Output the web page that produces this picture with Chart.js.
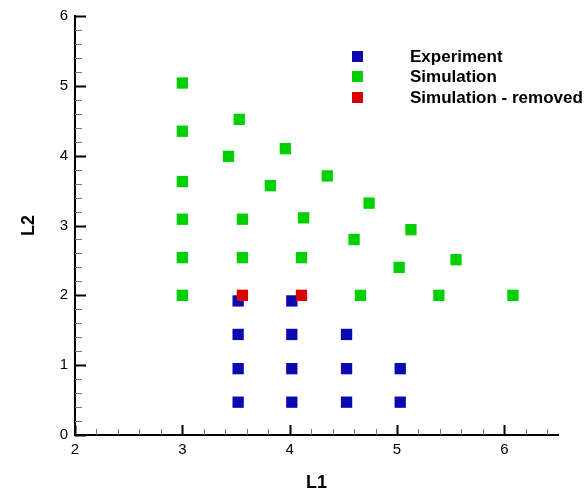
<!DOCTYPE html>
<html>
<head>
<meta charset="UTF-8">
<title>L1 vs L2</title>
<script src="https://cdn.jsdelivr.net/npm/chart.js"></script>
<style>
    body { margin: 0; background: #fff; font-family: "Liberation Sans", Arial, sans-serif; }
    #wrap { position: relative; width: 588px; height: 494px; }
    .leg { position: absolute; left: 352px; height: 20px; line-height: 20px; font-weight: bold; font-size: 17px; color: #000; white-space: nowrap; }
    .leg span { position: absolute; left: 0; top: 4px; width: 11px; height: 11px; }
    .leg b { position: absolute; left: 58px; top: 0; }
</style>
</head>
<body>
<div id="wrap">
    <canvas id="grafica" width="588" height="494"></canvas>
    <div class="leg" style="top:47px"><span style="background:#0a0ab0"></span><b>Experiment</b></div>
    <div class="leg" style="top:67px"><span style="background:#00d000"></span><b>Simulation</b></div>
    <div class="leg" style="top:88px"><span style="background:#d80000"></span><b>Simulation - removed</b></div>
</div>
<script>
    // valores
    const expX = [3.52, 4.02, 3.52, 4.02, 4.53, 3.52, 4.02, 4.53, 5.03, 3.52, 4.02, 4.53, 5.03];
    const expY = [1.92, 1.92, 1.44, 1.44, 1.44, 0.95, 0.95, 0.95, 0.95, 0.47, 0.47, 0.47, 0.47];

    const simX = [3.0, 3.0, 3.0, 3.0, 3.0, 3.0, 3.53, 3.43, 3.96, 3.82, 4.35, 3.56, 4.13, 4.74, 3.56, 4.11, 4.60, 5.13, 5.02, 5.55, 4.66, 5.39, 6.08];
    const simY = [5.04, 4.35, 3.63, 3.09, 2.54, 2.0, 4.52, 3.99, 4.10, 3.57, 3.71, 3.09, 3.11, 3.32, 2.54, 2.54, 2.80, 2.94, 2.40, 2.51, 2.0, 2.0, 2.0];

    const remX = [3.56, 4.11];
    const remY = [2.0, 2.0];

    const xTicks = [2, 3, 4, 5, 6];
    const yTicks = [0, 1, 2, 3, 4, 5, 6];

    function pares(xs, ys) {
        return xs.map((x, i) => ({ x: x, y: ys[i] }));
    }

    // marcas de los ejes hacia adentro (mayores y menores)
    const marcas = {
        id: 'marcas',
        beforeDatasetsDraw(chart) {
            const ctx = chart.ctx;
            const sx = chart.scales.x, sy = chart.scales.y;
            const a = chart.chartArea;
            ctx.save();
            for (let k = 0; k <= 22; k++) {
                const v = 2 + k * 0.2;
                const px = Math.round(sx.getPixelForValue(v)) + 0.5;
                const mayor = k % 5 === 0;
                ctx.beginPath();
                ctx.lineWidth = mayor ? 2 : 1;
                ctx.strokeStyle = mayor ? '#000' : '#777';
                ctx.moveTo(px, a.bottom);
                ctx.lineTo(px, a.bottom - (mayor ? 10 : 6));
                ctx.stroke();
            }
            for (let k = 0; k <= 30; k++) {
                const v = k * 0.2;
                const py = Math.round(sy.getPixelForValue(v)) + 0.5;
                const mayor = k % 5 === 0;
                ctx.beginPath();
                ctx.lineWidth = mayor ? 2 : 1;
                ctx.strokeStyle = mayor ? '#000' : '#777';
                ctx.moveTo(a.left, py);
                ctx.lineTo(a.left + (mayor ? 11 : 7), py);
                ctx.stroke();
            }
            ctx.restore();
        }
    };

    new Chart(document.getElementById('grafica'), {
        type: 'scatter',
        data: {
            datasets: [
                { label: 'Experiment', data: pares(expX, expY), backgroundColor: '#0a0ab0', order: 2 },
                { label: 'Simulation', data: pares(simX, simY), backgroundColor: '#00d000', order: 1 },
                { label: 'Simulation - removed', data: pares(remX, remY), backgroundColor: '#d80000', order: 0 }
            ]
        },
        options: {
            responsive: false,
            animation: false,
            elements: { point: { pointStyle: 'rect', radius: 8, borderWidth: 0, hoverRadius: 8 } },
            layout: { padding: { top: 15, right: 30, left: 0, bottom: 0 } },
            plugins: { legend: { display: false }, tooltip: { enabled: false } },
            scales: {
                x: {
                    type: 'linear',
                    min: 2, max: 6.5,
                    grid: { display: false, drawTicks: false },
                    border: { display: true, color: '#000', width: 2 },
                    afterBuildTicks: s => { s.ticks = xTicks.map(v => ({ value: v })); },
                    afterFit: s => { s.height = 59; },
                    ticks: { color: '#000', padding: 6, font: { size: 15, family: 'Liberation Sans' }, maxRotation: 0 },
                    title: { display: true, text: 'L1', color: '#000', font: { size: 18, weight: 'bold', family: 'Liberation Sans' }, padding: { top: 0, bottom: 0 } }
                },
                y: {
                    type: 'linear',
                    min: 0, max: 6,
                    grid: { display: false, drawTicks: false },
                    border: { display: true, color: '#000', width: 2 },
                    afterBuildTicks: s => { s.ticks = yTicks.map(v => ({ value: v })); },
                    afterFit: s => { s.width = 75; },
                    ticks: { color: '#000', padding: 7, font: { size: 15, family: 'Liberation Sans' } },
                    title: { display: true, text: 'L2', color: '#000', font: { size: 18, weight: 'bold', family: 'Liberation Sans' }, padding: { top: 18, bottom: 0 } }
                }
            }
        },
        plugins: [marcas]
    });
</script>
</body>
</html>
